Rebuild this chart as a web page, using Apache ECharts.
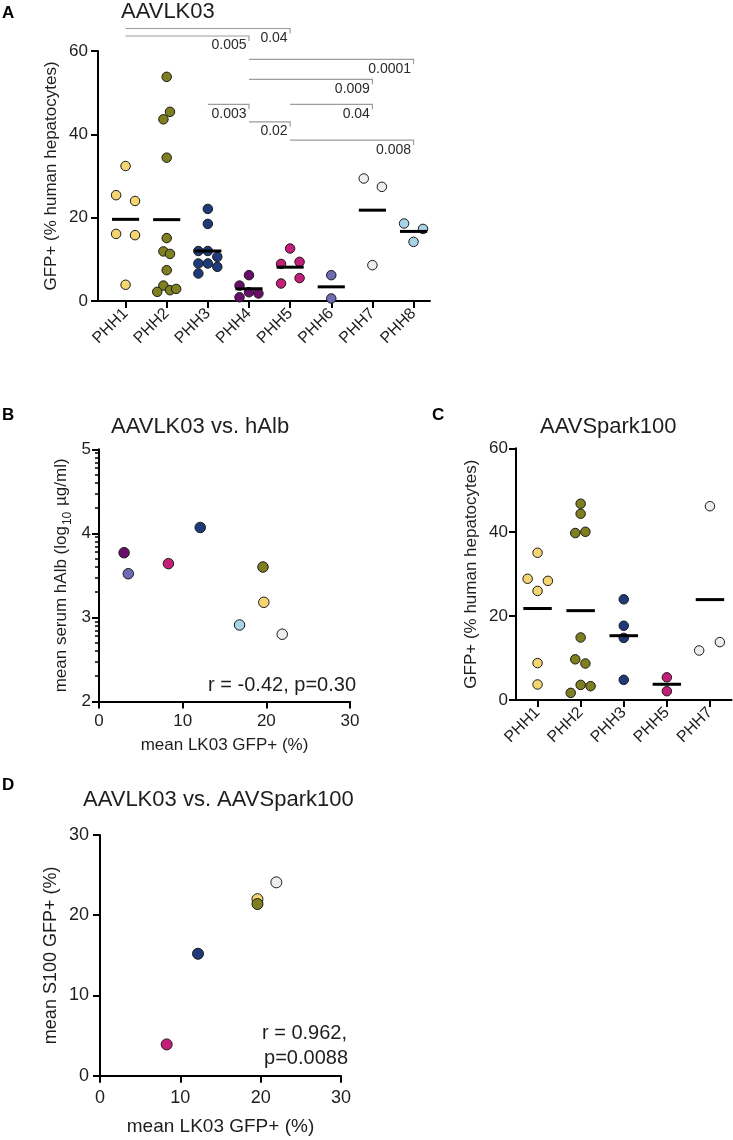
<!DOCTYPE html>
<html><head><meta charset="utf-8">
<script src="https://cdn.jsdelivr.net/npm/echarts@6/dist/echarts.min.js"></script>
<style>html,body{margin:0;padding:0;background:#fff}#c{width:733px;height:1140px}</style>
</head><body><div id="c"></div><script>
const FONT = '"Liberation Sans", Arial, Helvetica, sans-serif';
const TXT = '#1e1e1e';

// ---------- Panel A : AAVLK03 ----------
const catsA = ['PHH1','PHH2','PHH3','PHH4','PHH5','PHH6','PHH7','PHH8'];
const colorsA = ['#F5D571','#7F7F20','#1E3A7B','#6A0E6C','#C41E78','#6E6AB4','#EDEDED','#A8D3E6'];
const valsA = [
  [32.4, 25.4, 24.0, 16.1, 15.8, 3.9],
  [53.8, 45.4, 43.6, 34.4, 15.1, 11.9, 11.3, 7.4, 3.7, 2.2, 2.6, 2.9],
  [22.1, 18.5, 12.0, 12.0, 10.6, 9.0, 9.0, 8.2, 6.6],
  [6.2, 3.7, 2.1, 1.8, 0.9],
  [12.6, 8.9, 9.4, 5.5, 4.2],
  [6.2, 0.6],
  [29.4, 27.4, 8.6],
  [18.6, 17.3, 14.2]
];
const jitA = [
  [0, -0.23, 0.23, -0.23, 0.23, 0],
  [0, 0.08, -0.08, 0, 0, -0.08, 0.08, 0, -0.08, -0.23, 0.08, 0.23],
  [0, 0, -0.23, 0, 0.23, -0.23, 0, 0.23, -0.23],
  [0, -0.23, 0, 0.23, -0.23],
  [0, -0.22, 0.23, 0.23, -0.22],
  [0, 0],
  [-0.21, 0.23, 0],
  [-0.23, 0.23, 0]
];
const yTicksA = [0, 20, 40, 60];
// significance brackets (group index from, to, height in data units, p label)
const brFrom = [1, 1, 4, 4, 3, 5, 4, 5];
const brTo   = [5, 4, 8, 7, 4, 7, 5, 8];
const brY    = [65.4, 63.6, 58.0, 53.2, 47.2, 47.2, 43.0, 38.6];
const brP    = ['0.04', '0.005', '0.0001', '0.009', '0.003', '0.04', '0.02', '0.008'];

// ---------- Panel B : AAVLK03 vs hAlb ----------
const namesB = ['PHH1','PHH2','PHH3','PHH4','PHH5','PHH6','PHH7','PHH8'];
const bX = [19.7, 19.6, 12.1, 3.0, 8.3, 3.5, 21.9, 16.8];
const bY = [3.18, 3.60, 4.07, 3.77, 3.64, 3.52, 2.80, 2.91];
const yTicksB = [2, 3, 4, 5];
const xTicksB = [0, 10, 20, 30];

// ---------- Panel C : AAVSpark100 ----------
const catsC = ['PHH1','PHH2','PHH3','PHH5','PHH7'];
const colorIdxC = [0, 1, 2, 4, 6];
const valsC = [
  [35.1, 28.9, 28.4, 26.0, 8.8, 3.7],
  [46.8, 44.4, 39.8, 40.1, 14.9, 9.7, 8.7, 3.6, 3.3, 1.7],
  [24.0, 17.7, 14.8, 4.8],
  [5.4, 2.1],
  [46.2, 11.8, 13.8]
];
const jitC = [
  [0, -0.23, 0.24, 0, 0, 0],
  [0, 0, -0.125, 0.11, 0, -0.125, 0.11, 0, 0.23, -0.23],
  [0, 0, 0, 0],
  [0, 0],
  [0, -0.25, 0.23]
];

// ---------- Panel D : AAVLK03 vs AAVSpark100 ----------
const colorIdxD = [0, 1, 2, 4, 6];
const dX = [19.6, 19.6, 12.2, 8.3, 21.95];
const dY = [22.0, 21.4, 15.2, 3.9, 24.1];
const ticksD = [0, 10, 20, 30];

// ---------------------------------------------------------
const mean = a => a.reduce((s, v) => s + v, 0) / a.length;
const axisLineS = {show: true, onZero: false, lineStyle: {color: '#000', width: 2}};
const tickS = (len) => ({show: true, length: len, lineStyle: {color: '#000', width: 2}});
const lab = (size, margin) => ({color: TXT, fontSize: size, fontFamily: FONT, margin: margin});
const nameS = (size) => ({color: TXT, fontSize: size, fontFamily: FONT});

// log10 minor tick positions for panel B's axis (axis decoration)
const minorB = [];
for (let d = 2; d < 5; d++) for (let k = 2; k <= 9; k++) minorB.push(d + Math.log10(k));

const rectB = {left: 99, top: 449.3, width: 251, height: 252.2};
const grids = [
  {left: 98, top: 51, width: 332, height: 250},
  rectB,
  {left: 516, top: 448.3, width: 215.5, height: 251.7},
  {left: 100, top: 835, width: 241, height: 240.7},
  Object.assign({}, rectB)
];

const xAxes = [
  {gridIndex: 0, type: 'value', min: 0.33, max: 8.4, axisLine: axisLineS, splitLine: {show: false},
   axisTick: Object.assign(tickS(7), {customValues: catsA.map((c, i) => i + 1)}),
   axisLabel: Object.assign(lab(16, 10), {rotate: 45, customValues: catsA.map((c, i) => i + 1),
     formatter: v => catsA[Math.round(v) - 1]})},
  {gridIndex: 1, type: 'value', min: 0, max: 30, interval: 10, axisLine: axisLineS, splitLine: {show: false},
   axisTick: tickS(7), axisLabel: lab(17, 11),
   name: 'mean LK03 GFP+ (%)', nameLocation: 'middle', nameGap: 35, nameTextStyle: nameS(17)},
  {gridIndex: 2, type: 'value', min: 0.5, max: 5.5, axisLine: axisLineS, splitLine: {show: false},
   axisTick: Object.assign(tickS(7), {customValues: catsC.map((c, i) => i + 1)}),
   axisLabel: Object.assign(lab(16, 10), {rotate: 45, customValues: catsC.map((c, i) => i + 1),
     formatter: v => catsC[Math.round(v) - 1]})},
  {gridIndex: 3, type: 'value', min: 0, max: 30, interval: 10, axisLine: axisLineS, splitLine: {show: false},
   axisTick: tickS(7), axisLabel: lab(18, 13),
   name: 'mean LK03 GFP+ (%)', nameLocation: 'middle', nameGap: 42, nameTextStyle: nameS(19)},
  {gridIndex: 4, type: 'value', min: 0, max: 30, show: false}
];

const yAxes = [
  {gridIndex: 0, type: 'value', min: 0, max: 60, interval: 20, axisLine: axisLineS, splitLine: {show: false},
   axisTick: tickS(7), axisLabel: lab(17, 10),
   name: 'GFP+ (% human hepatocytes)', nameLocation: 'middle', nameGap: 38, nameTextStyle: nameS(17)},
  {gridIndex: 1, type: 'value', min: 2, max: 5, interval: 1, axisLine: axisLineS, splitLine: {show: false},
   axisTick: tickS(7), axisLabel: lab(17, 8),
   name: '{a|mean serum hAlb (log}{s|10}{a| µg/ml)}', nameLocation: 'middle', nameGap: 29,
   nameTextStyle: {color: TXT, fontFamily: FONT, rich: {
     a: {fontSize: 17, fontFamily: FONT, color: TXT, lineHeight: 22, verticalAlign: 'bottom'},
     s: {fontSize: 12, fontFamily: FONT, color: TXT, lineHeight: 22, verticalAlign: 'bottom', padding: [0, 1, -4, 1]}}}},
  {gridIndex: 2, type: 'value', min: 0, max: 60, interval: 20, axisLine: axisLineS, splitLine: {show: false},
   axisTick: tickS(7), axisLabel: lab(17, 8),
   name: 'GFP+ (% human hepatocytes)', nameLocation: 'middle', nameGap: 36, nameTextStyle: nameS(17)},
  {gridIndex: 3, type: 'value', min: 0, max: 30, interval: 10, axisLine: axisLineS, splitLine: {show: false},
   axisTick: tickS(7), axisLabel: lab(18, 11),
   name: 'mean S100 GFP+ (%)', nameLocation: 'middle', nameGap: 40, nameTextStyle: nameS(18)},
  {gridIndex: 4, type: 'value', min: 2, max: 5, position: 'left', axisLine: {show: false}, splitLine: {show: false},
   axisTick: {show: true, length: 4, customValues: minorB, lineStyle: {color: '#000', width: 1.5}},
   axisLabel: {show: false}}
];

const series = [];
const dotStyle = (color) => ({color: color, opacity: 1, borderColor: '#1a1a1a', borderWidth: 1});

// Panel A scatter
valsA.forEach((vals, i) => {
  series.push({type: 'scatter', xAxisIndex: 0, yAxisIndex: 0, symbolSize: 9.5, z: 3,
    itemStyle: dotStyle(colorsA[i]),
    data: vals.map((v, j) => [i + 1 + jitA[i][j], v])});
});
// mean bars renderer
const meanRender = (params, api) => {
  const c = api.value(0), m = api.value(1);
  const p1 = api.coord([c - 0.33, m]), p2 = api.coord([c + 0.33, m]);
  return {type: 'line', shape: {x1: p1[0], y1: p1[1], x2: p2[0], y2: p2[1]},
    style: {stroke: '#000', lineWidth: 3}};
};
series.push({type: 'custom', xAxisIndex: 0, yAxisIndex: 0, z: 5, clip: false,
  data: valsA.map((v, i) => [i + 1, mean(v)]), renderItem: meanRender});
// brackets
series.push({type: 'custom', xAxisIndex: 0, yAxisIndex: 0, z: 4, clip: false,
  encode: {x: [0, 1], y: 2},
  data: brFrom.map((f, i) => [f, brTo[i], brY[i]]),
  renderItem: (params, api) => {
    const a = api.coord([api.value(0), api.value(2)]);
    const b = api.coord([api.value(1), api.value(2)]);
    return {type: 'group', children: [
      {type: 'polyline', shape: {points: [[a[0], a[1]], [b[0], b[1]], [b[0], b[1] + 5]]},
        style: {stroke: '#9c9c9c', lineWidth: 1.2, fill: null}},
      {type: 'text', x: b[0] - 2.5, y: a[1] + 2.5,
        style: {text: brP[params.dataIndex], fontSize: 14, fontFamily: FONT, fill: '#2a2a2a',
          textAlign: 'right', textVerticalAlign: 'top'}}
    ]};
  }});

// Panel B
namesB.forEach((n, i) => {
  series.push({type: 'scatter', xAxisIndex: 1, yAxisIndex: 1, symbolSize: 10.5, z: 3,
    itemStyle: dotStyle(colorsA[i]), data: [[bX[i], bY[i]]]});
});

// Panel C
valsC.forEach((vals, i) => {
  series.push({type: 'scatter', xAxisIndex: 2, yAxisIndex: 2, symbolSize: 9.5, z: 3,
    itemStyle: dotStyle(colorsA[colorIdxC[i]]),
    data: vals.map((v, j) => [i + 1 + jitC[i][j], v])});
});
series.push({type: 'custom', xAxisIndex: 2, yAxisIndex: 2, z: 5, clip: false,
  data: valsC.map((v, i) => [i + 1, mean(v)]), renderItem: meanRender});

// Panel D
dX.forEach((x, i) => {
  series.push({type: 'scatter', xAxisIndex: 3, yAxisIndex: 3, symbolSize: 11, z: 3,
    itemStyle: dotStyle(colorsA[colorIdxD[i]]), data: [[x, dY[i]]]});
});

const txt = (x, y, s, size, opts) => Object.assign({type: 'text', x: x, y: y,
  style: Object.assign({text: s, fontSize: size, fontFamily: FONT, fill: TXT,
    textAlign: 'left', textVerticalAlign: 'middle'}, opts || {})});

const graphic = [
  txt(2, 13, 'A', 17, {fontWeight: 'bold', fill: '#000'}),
  txt(121, 12, 'AAVLK03', 22),
  txt(2, 415, 'B', 17, {fontWeight: 'bold', fill: '#000'}),
  txt(111, 427, 'AAVLK03 vs. hAlb', 22),
  txt(356, 685, 'r = -0.42, p=0.30', 20, {textAlign: 'right'}),
  txt(432, 415, 'C', 17, {fontWeight: 'bold', fill: '#000'}),
  txt(540, 427, 'AAVSpark100', 22),
  txt(2, 785, 'D', 17, {fontWeight: 'bold', fill: '#000'}),
  txt(83, 800, 'AAVLK03 vs. AAVSpark100', 22),
  txt(347, 1033, 'r = 0.962,', 20, {textAlign: 'right'}),
  txt(348, 1058, 'p=0.0088', 20, {textAlign: 'right'})
];

const chart = echarts.init(document.getElementById('c'));
chart.setOption({
  animation: false,
  backgroundColor: '#fff',
  textStyle: {fontFamily: FONT},
  grid: grids, xAxis: xAxes, yAxis: yAxes, series: series, graphic: graphic
});
</script></body></html>
